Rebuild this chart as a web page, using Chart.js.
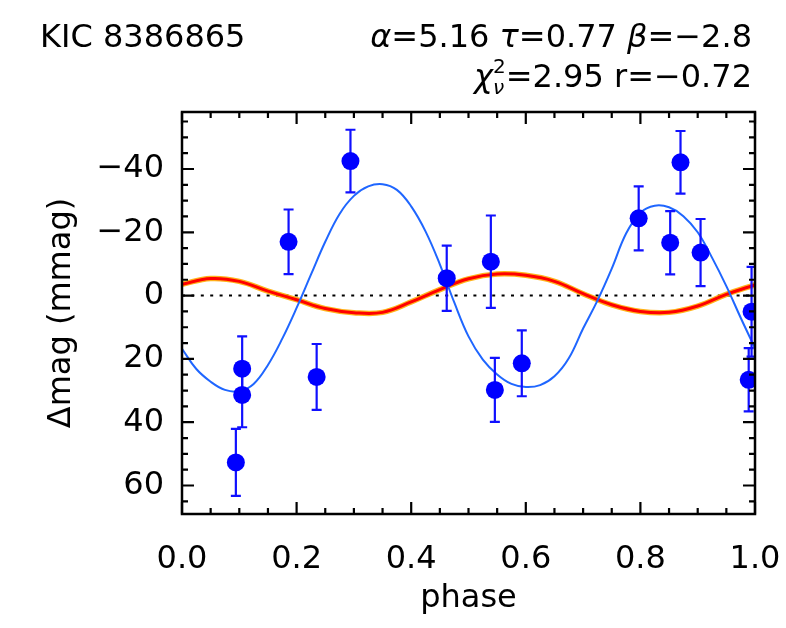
<!DOCTYPE html>
<html><head><meta charset="utf-8">
<script src="https://cdn.jsdelivr.net/npm/chart.js@4.4.1/dist/chart.umd.min.js"></script>
<style>html,body{margin:0;padding:0;background:#fff;}#wrap{width:786px;height:628px;}</style>
</head><body><div id="wrap"><canvas id="c" width="786" height="628"></canvas></div>
<script>
// ---- data ----
const obsPhase = [0.094, 0.105, 0.105, 0.186, 0.235, 0.294, 0.462, 0.539, 0.546, 0.593, 0.797, 0.852, 0.870, 0.905, 0.989, 0.994];
const obsMag   = [52.7, 23.1, 31.4, -17.0, 25.7, -42.5, -5.5, -10.7, 29.8, 21.4, -24.4, -16.7, -42.1, -13.6, 26.6, 5.1];
const obsErr   = [10.6, 10.2, 10.2, 10.2, 10.4, 9.9, 10.3, 14.6, 10.1, 10.4, 10.1, 10.0, 9.9, 10.6, 10.0, 14.2];

const fitPhase = [0.000, 0.025, 0.050, 0.075, 0.100, 0.125, 0.150, 0.175, 0.200, 0.225, 0.250, 0.275, 0.300, 0.325, 0.350, 0.375, 0.400, 0.425, 0.450, 0.475, 0.500, 0.525, 0.550, 0.575, 0.600, 0.625, 0.650, 0.675, 0.700, 0.725, 0.750, 0.775, 0.800, 0.825, 0.850, 0.875, 0.900, 0.925, 0.950, 0.975, 1.000];
const fitMag   = [16.8, 23.2, 27.2, 29.8, 30.2, 27.9, 21.9, 13.6, 3.9, -6.6, -17.0, -25.8, -31.5, -34.5, -35.2, -33.4, -28.2, -20.3, -9.9, 2.1, 12.9, 20.2, 24.9, 27.9, 28.9, 28.3, 25.5, 19.8, 10.4, 1.6, -8.5, -19.6, -26.2, -28.4, -27.9, -25.1, -20.0, -12.0, -3.0, 7.0, 16.6];

const modelPhase = [0.00, 0.05, 0.10, 0.15, 0.20, 0.25, 0.30, 0.35, 0.40, 0.45, 0.50, 0.55, 0.60, 0.65, 0.70, 0.75, 0.80, 0.85, 0.90, 0.95, 1.00];
const modelMag   = [-3.6, -5.4, -4.5, -1.4, 1.3, 4.1, 5.4, 5.3, 2.0, -1.9, -5.3, -6.8, -6.4, -4.5, -0.6, 2.9, 5.0, 5.3, 3.3, -0.4, -3.4];

const xTicks = [0, 0.2, 0.4, 0.6, 0.8, 1.0];
const xTickLabels = ['0.0', '0.2', '0.4', '0.6', '0.8', '1.0'];
const yTicks = [-40, -20, 0, 20, 40, 60];
const yTickLabels = ['\u221240', '\u221220', '0', '20', '40', '60'];
const zeroLine = [0, 1];

const FONT = '"DejaVu Sans", sans-serif';

const toXY = (xs, ys) => xs.map((x, i) => ({x: x, y: ys[i]}));

const errorBars = {
  id: 'errorBars',
  beforeDatasetDraw(chart, args) {
    if (args.index !== 4) return;
    const ctx = chart.ctx, xs = chart.scales.x, ys = chart.scales.y, a = chart.chartArea;
    ctx.save();
    ctx.beginPath(); ctx.rect(a.left, a.top, a.right - a.left, a.bottom - a.top); ctx.clip();
    ctx.strokeStyle = '#1010ff'; ctx.lineWidth = 2.2;
    obsPhase.forEach((p, i) => {
      const x = xs.getPixelForValue(p);
      const y1 = ys.getPixelForValue(obsMag[i] - obsErr[i]);
      const y2 = ys.getPixelForValue(obsMag[i] + obsErr[i]);
      ctx.beginPath();
      ctx.moveTo(x, y1); ctx.lineTo(x, y2);
      ctx.moveTo(x - 5, y1); ctx.lineTo(x + 5, y1);
      ctx.moveTo(x - 5, y2); ctx.lineTo(x + 5, y2);
      ctx.stroke();
    });
    ctx.restore();
  }
};

const frame = {
  id: 'frame',
  afterDraw(chart) {
    const ctx = chart.ctx, xs = chart.scales.x, ys = chart.scales.y, a = chart.chartArea;
    ctx.save();
    ctx.strokeStyle = '#000'; ctx.lineWidth = 2.5;
    ctx.strokeRect(a.left, a.top, a.right - a.left, a.bottom - a.top);
    ctx.lineWidth = 2.2;
    ctx.beginPath();
    for (let k = 0; k <= 20; k++) {
      const v = k * 0.05;
      const len = (k % 4 === 0) ? 12 : 6;
      const x = xs.getPixelForValue(v);
      ctx.moveTo(x, a.bottom); ctx.lineTo(x, a.bottom - len);
      ctx.moveTo(x, a.top); ctx.lineTo(x, a.top + len);
    }
    for (let v = -55; v <= 65; v += 5) {
      const len = (v % 20 === 0) ? 12 : 6;
      const y = ys.getPixelForValue(v);
      ctx.moveTo(a.left, y); ctx.lineTo(a.left + len, y);
      ctx.moveTo(a.right, y); ctx.lineTo(a.right - len, y);
    }
    ctx.stroke();

    // header texts
    ctx.fillStyle = '#000';
    ctx.textBaseline = 'alphabetic';
    ctx.textAlign = 'left';
    ctx.font = '32px ' + FONT;
    ctx.fillText('KIC 8386865', 40, 47);

    const drawRight = (segs, xr, yb) => {
      let w = 0;
      segs.forEach(s => { ctx.font = s.f; s.w = s.adv !== undefined ? s.adv : ctx.measureText(s.t).width; w += s.w; });
      let x = xr - w;
      segs.forEach(s => { ctx.font = s.f; ctx.fillText(s.t, x + (s.dx || 0), yb + (s.dy || 0)); x += s.w; });
    };
    const N = '32px ' + FONT, I = 'italic 32px ' + FONT, S = '20px ' + FONT, SI = 'italic 20px ' + FONT;
    drawRight([
      {t: '\u03b1', f: I}, {t: '=5.16 ', f: N},
      {t: '\u03c4', f: I}, {t: '=0.77 ', f: N},
      {t: '\u03b2', f: I}, {t: '=\u22122.8', f: N}
    ], 752, 47);
    ctx.font = S;
    const w2 = ctx.measureText('2').width;
    drawRight([
      {t: '\u03c7', f: I},
      {t: '2', f: S, dy: -14, adv: 0, dx: 0},
      {t: '\u03bd', f: SI, dy: 7, adv: w2},
      {t: '=2.95 r=\u22120.72', f: N}
    ], 752, 87);
    ctx.restore();
  }
};

new Chart(document.getElementById('c'), {
  type: 'scatter',
  data: {
    datasets: [
      {order: 3, data: toXY(modelPhase, modelMag), showLine: true, borderColor: 'rgba(255,170,0,0.9)', borderWidth: 5.5, pointRadius: 0, tension: 0.4},
      {order: 2, data: toXY(modelPhase, modelMag), showLine: true, borderColor: '#ff0000', borderWidth: 3, pointRadius: 0, tension: 0.4},
      {order: 1, data: toXY(fitPhase, fitMag), showLine: true, borderColor: '#1f66ff', borderWidth: 2, pointRadius: 0, tension: 0.4},
      {order: 4, data: zeroLine.map(x => ({x: x, y: 0})), showLine: true, borderColor: '#000', borderWidth: 2, borderDash: [3, 6.4], pointRadius: 0},
      {order: 0, data: toXY(obsPhase, obsMag), pointRadius: 9, pointBackgroundColor: '#0000ff', pointBorderWidth: 0, pointBorderColor: '#0000ff', clip: 0}
    ]
  },
  options: {
    responsive: false, animation: false, devicePixelRatio: 1,
    events: [],
    layout: {padding: {top: 112, right: 31, left: 0, bottom: 0}},
    plugins: {legend: {display: false}, tooltip: {enabled: false}},
    scales: {
      x: {
        type: 'linear', min: 0, max: 1,
        afterBuildTicks: s => { s.ticks = xTicks.map(v => ({value: v})); },
        afterFit: s => { s.height = 114; s.paddingLeft = 0; s.paddingRight = 0; },
        grid: {display: false}, border: {display: false},
        ticks: {color: '#000', font: {family: FONT, size: 32}, padding: 18, maxRotation: 0,
          callback: (v) => { const i = xTicks.findIndex(t => Math.abs(t - v) < 1e-9); return i >= 0 ? xTickLabels[i] : ''; }},
        title: {display: true, text: 'phase', color: '#000', font: {family: FONT, size: 32}, padding: {top: 0, bottom: 10}}
      },
      y: {
        type: 'linear', min: -58, max: 69, reverse: true,
        afterBuildTicks: s => { s.ticks = yTicks.map(v => ({value: v})); },
        afterFit: s => { s.width = 182; s.paddingTop = 0; s.paddingBottom = 0; },
        grid: {display: false}, border: {display: false},
        ticks: {color: '#000', font: {family: FONT, size: 32}, padding: 10,
          callback: (v) => { const i = yTicks.indexOf(v); return i >= 0 ? yTickLabels[i] : ''; }},
        title: {display: true, text: '\u0394mag (mmag)', color: '#000', font: {family: FONT, size: 32}, padding: {top: 42, bottom: 0}}
      }
    }
  },
  plugins: [errorBars, frame]
});
</script></body></html>
